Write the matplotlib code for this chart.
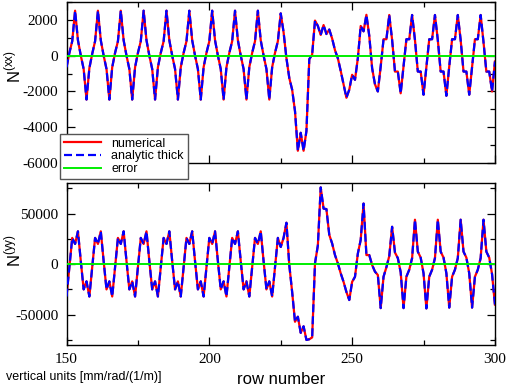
import numpy as np
import matplotlib
matplotlib.use('Agg')
import matplotlib.pyplot as plt
from matplotlib.ticker import MultipleLocator

# row numbers 150..300
rows = np.arange(150, 301)

# N^(xx) (one value per row)
nxx_numerical = [
    -650, 150, 800, 2500, 850, 0, -750, -2450,      # 150
    -700, 100, 800, 2500, 850, 0, -750, -2450,      # 158
    -650, 150, 800, 2500, 850, 0, -750, -2450,      # 166
    -650, 150, 800, 2500, 850, 0, -750, -2450,      # 174
    -650, 150, 800, 2500, 850, 0, -750, -2450,      # 182
    -650, 150, 800, 2500, 850, 0, -750, -2450,      # 190
    -650, 150, 800, 2500, 850, 0, -750, -2450,      # 198
    -650, 150, 800, 2500, 850, 0, -750, -2450,      # 206
    -650, 150, 800, 2500, 850, 0, -750, -2450,      # 214
    -650, 150, 800, 2350, 1300, -150, -1250, -1900, # 222
    -3100, -5300, -4300, -5300, -4200, -200, 50, 1950,   # 230
    1650, 1150, 1700, 1200, 1450, 950, 300, -150,        # 238
    -850, -1600, -2350, -1900, -1070, -1350, -150, 1650, # 246
    1350, 2270, 1100, -700, -1600, -2000, -610, 910,     # 254
    910, 2260, 870, -890, -890, -2100, -610, 910,        # 262
    910, 2260, 870, -890, -890, -2180, -610, 910,        # 270
    910, 2260, 870, -890, -890, -2240, -610, 910,        # 278
    910, 2260, 870, -890, -890, -2180, -610, 910,        # 286
    910, 2260, 750, -890, -890, -2000, -330,             # 294
]

# N^(yy) (one value per row)
nyy_numerical = [
    -32000, -3000, 26000, 20000, 32500, 3000, -25000, -17000,  # 150
    -32000, -3000, 26000, 20000, 32500, 3000, -25000, -17000,  # 158
    -32000, -3000, 26000, 20000, 32500, 3000, -25000, -17000,  # 166
    -32000, -3000, 26000, 20000, 32500, 3000, -25000, -17000,  # 174
    -32000, -3000, 26000, 20000, 32500, 3000, -25000, -17000,  # 182
    -32000, -3000, 26000, 20000, 32500, 3000, -25000, -17000,  # 190
    -32000, -3000, 26000, 20000, 32500, 3000, -25000, -17000,  # 198
    -32000, -3000, 26000, 20000, 32500, 3000, -25000, -17000,  # 206
    -32000, -3000, 26000, 20000, 32500, 3000, -25000, -17000,  # 214
    -32000, -3000, 26000, 17000, 26000, 41000, -1000, -27500,  # 222
    -57000, -52000, -68000, -61500, -75000, -74300, -72500, 900,  # 230
    18500, 76000, 55000, 54500, 29000, 20500, 9000, 800,       # 238
    -9000, -17500, -27500, -35500, -17500, -12500, 10500, 24000,  # 246
    60000, 9000, 9000, -800, -7400, -10700, -43500, -12400,    # 254
    -3000, 8000, 37000, 11500, 6000, -8000, -43500, -12400,    # 262
    -5500, 6000, 44000, 12400, 6500, -9000, -43800, -12400,    # 270
    -5500, 6000, 44000, 12400, 6500, -9000, -43000, -12400,    # 278
    -5500, 6000, 44000, 12400, 6500, -9000, -43000, -12400,    # 286
    -5500, 6000, 44000, 12400, 6500, -10000, -40000,           # 294
]

# analytic thick solution lies on top of the numerical one
nxx_analytic = list(nxx_numerical)
nyy_analytic = list(nyy_numerical)

plt.rcParams['font.family'] = 'Liberation Serif'
plt.rcParams['axes.unicode_minus'] = False
plt.rcParams['mathtext.fontset'] = 'custom'
plt.rcParams['mathtext.rm'] = 'Liberation Sans'

fig = plt.figure(figsize=(5.07, 3.87), dpi=100)
ax1 = fig.add_axes([0.1312, 0.578, 0.845, 0.4176])
ax2 = fig.add_axes([0.1312, 0.1085, 0.845, 0.4178])

panels = [
    (ax1, nxx_numerical, nxx_analytic, r'N$^{\mathrm{(xx)}}$', (-6000, 3000), 2000, 1000, 0.60),
    (ax2, nyy_numerical, nyy_analytic, r'N$^{\mathrm{(yy)}}$', (-80000, 80000), 50000, 25000, 0.585),
]

for ax, num, ana, label, ylim, major, minor, ly in panels:
    num = np.array(num)
    ana = np.array(ana)
    ax.plot(rows, num, color='#ff0000', lw=1.6, label='numerical', zorder=2)
    ax.plot(rows, ana, color='#0000ff', lw=1.6, dashes=(3.6, 1.8),
            label='analytic thick', zorder=3)
    ax.plot(rows, num - ana, color='#00ee00', lw=1.4, label='error', zorder=4)
    ax.set_xlim(150, 300)
    ax.set_ylim(*ylim)
    ax.xaxis.set_major_locator(MultipleLocator(50))
    ax.xaxis.set_minor_locator(MultipleLocator(25))
    ax.yaxis.set_major_locator(MultipleLocator(major))
    ax.yaxis.set_minor_locator(MultipleLocator(minor))
    ax.tick_params(which='both', direction='in', top=True, right=True,
                   labelsize=11, pad=6)
    ax.tick_params(which='major', length=5.5, width=0.9)
    ax.tick_params(which='minor', length=3.5, width=0.9)
    for s in ax.spines.values():
        s.set_linewidth(1.0)
    ax.set_ylabel(label, fontfamily='Liberation Sans', fontsize=12)
    ax.yaxis.set_label_coords(-0.100, ly)

ax1.tick_params(labelbottom=False)

ax2.set_xlabel('row number', fontfamily='Liberation Sans', fontsize=12, labelpad=4)

leg = ax1.legend(loc='upper left', bbox_to_anchor=(60 / 507, 1 - 134 / 387),
                 bbox_transform=fig.transFigure,
                 prop={'family': 'Liberation Sans', 'size': 9},
                 frameon=True, fancybox=False, framealpha=1, edgecolor='#555555',
                 handlelength=3.0, handletextpad=0.8, labelspacing=0.05,
                 borderpad=0.3, borderaxespad=0)
leg.get_frame().set_linewidth(1.0)

fig.text(6 / 507, 1 - 377 / 387, 'vertical units [mm/rad/(1/m)]',
         fontfamily='Liberation Sans', fontsize=9, va='center', ha='left')

fig.savefig('out.png', dpi=100)
